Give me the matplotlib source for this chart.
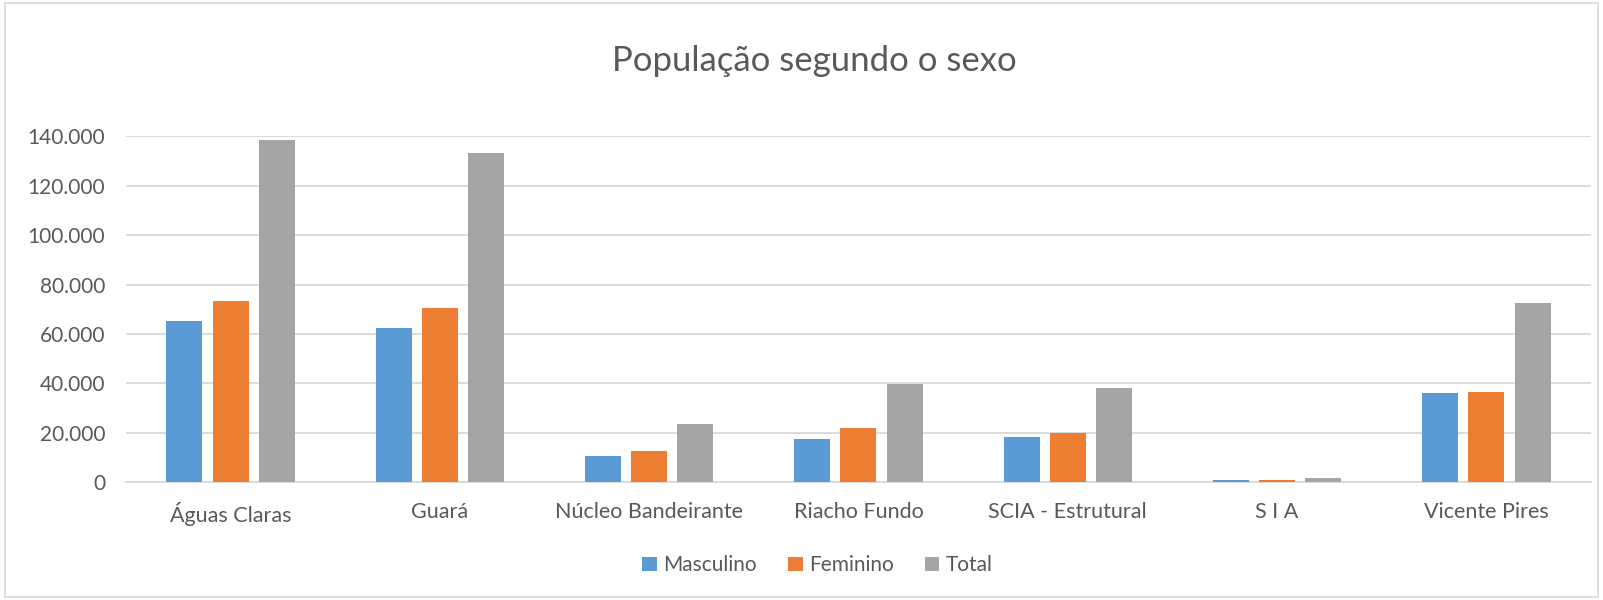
import numpy as np
import matplotlib.pyplot as plt
import matplotlib
from matplotlib.ticker import FuncFormatter, MultipleLocator
from matplotlib.patches import Rectangle

matplotlib.rcParams['font.family'] = ['Lato', 'DejaVu Sans']

categorias = ['Águas Claras', 'Guará', 'Núcleo Bandeirante', 'Riacho Fundo',
              'SCIA - Estrutural', 'S I A', 'Vicente Pires']
masculino = [65200, 62500, 10800, 17600, 18300, 940, 36000]
feminino = [73200, 70400, 12500, 22000, 20000, 1070, 36500]
total = [138500, 133200, 23600, 39900, 38300, 1900, 72700]

series = [('Masculino', masculino, '#5B9BD5'),
          ('Feminino', feminino, '#ED7D31'),
          ('Total', total, '#A5A5A5')]

txt = '#595959'
grid = '#D9D9D9'

fig = plt.figure(figsize=(16.03, 6), dpi=100)
ax = fig.add_axes([0.0786, 0.196, 0.9139, 0.577])

x = np.arange(len(categorias))
w = 0.172
step = 0.221
for i, (nome, vals, cor) in enumerate(series):
    ax.bar(x + (i - 1) * step, vals, width=w, color=cor, label=nome, zorder=3)

ax.set_xlim(-0.5, len(categorias) - 0.5)
ax.set_ylim(0, 140000)
ax.yaxis.set_major_locator(MultipleLocator(20000))
ax.yaxis.set_major_formatter(FuncFormatter(lambda v, p: f'{int(v):,}'.replace(',', '.')))
ax.grid(axis='y', color=grid, linewidth=1.3, zorder=0)
for s in ['top', 'right', 'left']:
    ax.spines[s].set_visible(False)
ax.spines['bottom'].set_color(grid)
ax.spines['bottom'].set_linewidth(1.3)
ax.tick_params(axis='y', length=0, labelsize=15, labelcolor=txt, pad=15)
ax.tick_params(axis='x', length=0, labelsize=15.5, labelcolor=txt, pad=14)
ax.set_xticks(x)
ax.set_xticklabels(categorias)

fig.suptitle('População segundo o sexo', x=0.508, y=0.925, fontsize=25, color=txt)

fig.legend(loc='center', bbox_to_anchor=(0.51, 0.058), ncol=3, frameon=False,
           fontsize=15, handlelength=0.7, handleheight=0.7, handletextpad=0.3,
           columnspacing=1.5, labelcolor=txt)

fig.patches.append(Rectangle((0.003, 0.005), 0.994, 0.99, transform=fig.transFigure,
                             fill=False, edgecolor=grid, linewidth=1.2))

plt.savefig('out.png', dpi=100)
